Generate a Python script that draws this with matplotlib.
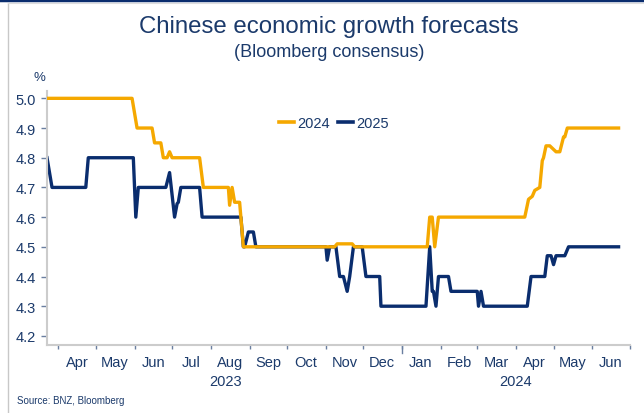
import matplotlib
matplotlib.use("Agg")
import matplotlib.pyplot as plt
import matplotlib.dates as mdates
import pandas as pd
from matplotlib.lines import Line2D

plt.rcParams['font.family'] = ['Liberation Sans', 'DejaVu Sans']

NAVY = '#0a2d6e'
ORANGE = '#f5a800'
TEXT = '#1b3a6b'

# 2024 forecast (Bloomberg consensus), %
dates_2024 = ["2023-03-23", "2023-05-30", "2023-06-03", "2023-06-15", "2023-06-17", "2023-06-22",
              "2023-06-24", "2023-06-27", "2023-06-29", "2023-07-01", "2023-07-23", "2023-07-26",
              "2023-08-15", "2023-08-16", "2023-08-18", "2023-08-20", "2023-08-24", "2023-08-27",
              "2023-11-08", "2023-11-10", "2023-11-22", "2023-11-24", "2024-01-21", "2024-01-23",
              "2024-01-25", "2024-01-27", "2024-01-30", "2024-04-08", "2024-04-11", "2024-04-14",
              "2024-04-16", "2024-04-20", "2024-04-22", "2024-04-23", "2024-04-25", "2024-04-28",
              "2024-05-03", "2024-05-06", "2024-05-09", "2024-05-10", "2024-05-12", "2024-06-22"]
values_2024 = [5.0, 5.0, 4.9, 4.9, 4.85, 4.85,
               4.8, 4.8, 4.82, 4.8, 4.8, 4.7,
               4.7, 4.64, 4.7, 4.65, 4.65, 4.5,
               4.5, 4.51, 4.51, 4.5, 4.5, 4.6,
               4.6, 4.5, 4.6, 4.6, 4.66, 4.67,
               4.69, 4.7, 4.79, 4.8, 4.84, 4.84,
               4.82, 4.82, 4.87, 4.87, 4.9, 4.9]

# 2025 forecast (Bloomberg consensus), %
dates_2025 = ["2023-03-23", "2023-03-27", "2023-04-23", "2023-04-25", "2023-05-31", "2023-06-02",
              "2023-06-04", "2023-06-26", "2023-06-29", "2023-07-03", "2023-07-05", "2023-07-06",
              "2023-07-08", "2023-07-23", "2023-07-25", "2023-08-25", "2023-08-27", "2023-08-28",
              "2023-08-31", "2023-09-04", "2023-09-06", "2023-11-01", "2023-11-02", "2023-11-04",
              "2023-11-09", "2023-11-12", "2023-11-15", "2023-11-18", "2023-11-20", "2023-11-23",
              "2023-11-30", "2023-12-03", "2023-12-14", "2023-12-15", "2024-01-20", "2024-01-23",
              "2024-01-25", "2024-01-26", "2024-01-28", "2024-01-30", "2024-02-07", "2024-02-09",
              "2024-03-01", "2024-03-02", "2024-03-04", "2024-03-06", "2024-04-10", "2024-04-13",
              "2024-04-24", "2024-04-26", "2024-04-29", "2024-05-01", "2024-05-03", "2024-05-10",
              "2024-05-13", "2024-06-22"]
values_2025 = [4.8, 4.7, 4.7, 4.8, 4.8, 4.6,
               4.7, 4.7, 4.75, 4.6, 4.645, 4.65,
               4.7, 4.7, 4.6, 4.6, 4.5, 4.5,
               4.55, 4.55, 4.5, 4.5, 4.455, 4.5,
               4.5, 4.4, 4.4, 4.35, 4.4, 4.5,
               4.5, 4.4, 4.4, 4.3, 4.3, 4.5,
               4.35, 4.35, 4.3, 4.4, 4.4, 4.35,
               4.35, 4.3, 4.35, 4.3, 4.3, 4.4,
               4.4, 4.47, 4.47, 4.44, 4.47, 4.47,
               4.5, 4.5]

y_ticks = [4.2, 4.3, 4.4, 4.5, 4.6, 4.7, 4.8, 4.9, 5.0]
year_labels = [("2023", "2023-08-13"), ("2024", "2024-04-01")]

d24 = pd.to_datetime(dates_2024)
d25 = pd.to_datetime(dates_2025)

fig = plt.figure(figsize=(6.44, 4.14), dpi=100)
ax = fig.add_axes([0.073, 0.164, 0.905, 0.614])

ax.plot(d24, values_2024, color=ORANGE, lw=2.4, solid_joinstyle='round', zorder=3)
ax.plot(d25, values_2025, color=NAVY, lw=2.4, solid_joinstyle='round', zorder=2)

ax.set_xlim(pd.Timestamp("2023-03-23"), pd.Timestamp("2024-07-01"))
ax.set_ylim(4.169, 5.025)
ax.set_yticks(y_ticks)
ax.set_yticklabels([f"{v:.1f}" for v in y_ticks])

for s in ['top', 'right']:
    ax.spines[s].set_visible(False)
for s in ['left', 'bottom']:
    ax.spines[s].set_color('#cccccc')
    ax.spines[s].set_linewidth(1.5)

ax.tick_params(axis='y', colors=TEXT, labelsize=10.5, length=4, width=1, pad=4)
ax.tick_params(axis='y', which='major', color='#6a7fa0')

# month boundaries as major ticks, labels at mid-month
ax.xaxis.set_major_locator(mdates.MonthLocator())
ax.xaxis.set_major_formatter(plt.NullFormatter())
ax.xaxis.set_minor_locator(mdates.MonthLocator(bymonthday=16))
ax.xaxis.set_minor_formatter(mdates.DateFormatter('%b'))
ax.tick_params(axis='x', which='major', length=3, width=1, color='#6a7fa0')
ax.tick_params(axis='x', which='minor', length=0, labelsize=10.5, labelcolor=TEXT, pad=7)

# taller tick at the year boundary
ax.plot([pd.Timestamp("2024-01-01")] * 2, [0, -0.03], transform=ax.get_xaxis_transform(),
        color='#6a7fa0', lw=1, clip_on=False)

for lab, dt in year_labels:
    ax.text(pd.Timestamp(dt), -0.14, lab, transform=ax.get_xaxis_transform(),
            ha='center', va='center', fontsize=10.5, color=TEXT)

ax.text(-0.003, 1.055, "%", transform=ax.transAxes, ha='right', va='center',
        fontsize=9.5, color=TEXT)

handles = [Line2D([], [], color=ORANGE, lw=2.6), Line2D([], [], color=NAVY, lw=2.6)]
ax.legend(handles, ["2024", "2025"], loc='center', bbox_to_anchor=(0.493, 0.872), ncol=2,
          frameon=False, handlelength=1.0, handletextpad=0.25, columnspacing=0.55,
          fontsize=10.5, labelcolor=TEXT)

fig.text(0.510, 0.935, "Chinese economic growth forecasts", ha='center', va='center',
         fontsize=17.3, color=TEXT)
fig.text(0.511, 0.873, "(Bloomberg consensus)", ha='center', va='center',
         fontsize=13, color=TEXT)
fig.text(0.026, 0.031, "Source: BNZ, Bloomberg", ha='left', va='center',
         fontsize=7, color=TEXT)

# frame decorations
fig.add_artist(Line2D([0, 1], [0.997, 0.997], transform=fig.transFigure, color=NAVY, lw=2.5))
fig.add_artist(Line2D([0.012, 0.012], [0, 0.99], transform=fig.transFigure, color='#c8c8c8', lw=1))
fig.add_artist(Line2D([0.012, 1], [0.99, 0.99], transform=fig.transFigure, color='#dddddd', lw=0.8))

fig.savefig("out.png", dpi=100)
